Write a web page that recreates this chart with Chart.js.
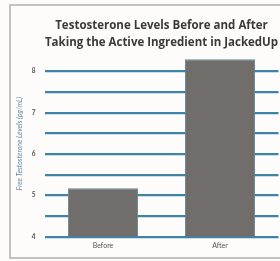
<!DOCTYPE html>
<html>
<head>
<meta charset="utf-8">
<script src="https://cdn.jsdelivr.net/npm/chart.js@4/dist/chart.umd.min.js"></script>
<style>
  html, body { margin: 0; padding: 0; background: #fff; }
  #wrap { width: 280px; height: 261px; position: relative; }
</style>
</head>
<body>
<div id="wrap"><canvas id="chart" width="280" height="261"></canvas></div>
<script>
const categories = ['Before', 'After'];
const levels = [5.17, 8.29];
const yTickLabels = ['4', '5', '6', '7', '8'];

// light grey frame round the figure (left, top, bottom)
const framePlugin = {
  id: 'frame',
  beforeDraw(chart) {
    const c = chart.ctx;
    c.save();
    c.fillStyle = '#fdfcfb';
    c.fillRect(0, 0, chart.width, chart.height);
    c.strokeStyle = '#c4c2c0';
    c.lineWidth = 2;
    c.beginPath();
    c.moveTo(chart.width, 5);
    c.lineTo(10, 5);
    c.lineTo(10, 258);
    c.lineTo(chart.width, 258);
    c.stroke();
    c.restore();
  }
};

const ctx = document.getElementById('chart').getContext('2d');
new Chart(ctx, {
  type: 'bar',
  data: {
    labels: categories,
    datasets: [{
      data: levels,
      backgroundColor: '#716d6a',
      borderColor: '#5e8599',
      borderWidth: 1,
      barPercentage: 0.6,
      categoryPercentage: 1.0
    }]
  },
  options: {
    responsive: false,
    animation: false,
    layout: { padding: { left: 10, right: 1.5, top: 18, bottom: 6 } },
    plugins: {
      legend: { display: false },
      tooltip: { enabled: false },
      title: {
        display: true,
        fullSize: false,
        text: ['Testosterone Levels Before and After', 'Taking the Active Ingredient in JackedUp'],
        color: '#3a3a3a',
        font: { family: 'Open Sans', size: 11.5, weight: 'bold', lineHeight: 1.42 },
        padding: { top: 0, bottom: 0 }
      }
    },
    scales: {
      x: {
        grid: { display: false, drawTicks: false },
        border: { display: false },
        ticks: { color: '#555', font: { family: 'Lato', size: 7 }, padding: 5 }
      },
      y: {
        min: 4,
        max: 8.5,
        afterFit(scale) { scale.width = 34.5; },
        grid: {
          color: c => (c.tick && c.tick.value > 8.01) ? 'rgba(0,0,0,0)' : '#3f84a6',
          lineWidth: 2.2,
          drawTicks: false
        },
        border: { display: false },
        ticks: {
          stepSize: 0.5,
          padding: 9,
          color: '#555',
          font: { family: 'Lato', size: 6.5, weight: 'bold' },
          callback: v => yTickLabels.includes(String(v)) ? String(v) : ''
        },
        title: {
          display: true,
          text: 'Free Testosterone Levels (pg/mL)',
          color: '#5b86a6',
          font: { family: 'Lato', size: 7, style: 'italic' },
          padding: { top: 6, bottom: 0 }
        }
      }
    }
  },
  plugins: [framePlugin]
});
</script>
</body>
</html>
